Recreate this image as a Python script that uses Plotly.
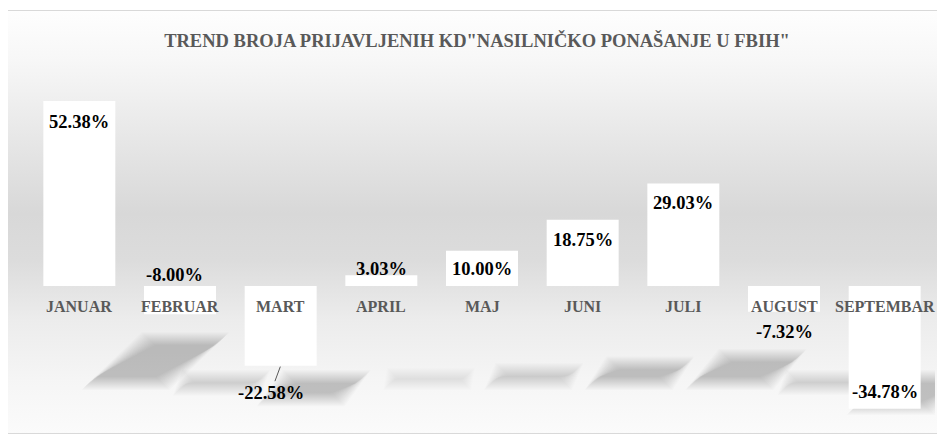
import base64
import plotly.graph_objects as go

# ---------------- data ----------------
months = ["JANUAR", "FEBRUAR", "MART", "APRIL", "MAJ", "JUNI", "JULI", "AUGUST", "SEPTEMBAR"]
trend_pct = [52.38, -8.00, -22.58, 3.03, 10.00, 18.75, 29.03, -7.32, -34.78]
value_labels = ["52.38%", "-8.00%", "-22.58%", "3.03%", "10.00%", "18.75%", "29.03%", "-7.32%", "-34.78%"]
title_text = 'TREND BROJA PRIJAVLJENIH KD"NASILNIČKO PONAŠANJE U FBIH"'

# ---------------- style ----------------
OFF = 8                      # page body margin of the html page
W, H = 945 - OFF, 441 - OFF
ML, MR, MT, MB = 29 - OFF, 10, 90 - OFF, 16
Y_RANGE = [-39.38, 55.52]
label_dy = [-21, 39, 0, 6, -18, -20, -19.5, -20, 17]   # px offsets of value labels
label_dx = [0, -6, 0, 0, 0, 0, 0, 0, 0]
SERIF = "Liberation Serif, Cambria, serif"

plot_w = W - ML - MR
plot_h = H - MT - MB
px_x = plot_w / len(months)                 # px per category unit
px_y = plot_h / (Y_RANGE[1] - Y_RANGE[0])   # px per percent

x_idx = list(range(len(months)))

fig = go.Figure()
fig.add_trace(go.Bar(
    x=x_idx, y=trend_pct,
    marker=dict(color="#ffffff", line=dict(width=0)),
    hoverinfo="skip",
))

# ---------------- background gradient (decorative) ----------------
svg = (
    "<svg xmlns='http://www.w3.org/2000/svg' width='100' height='100' viewBox='0 0 100 100' "
    "preserveAspectRatio='none'><defs><linearGradient id='g' x1='0' y1='0' x2='0' y2='1'>"
    "<stop offset='0' stop-color='#fefefe'/>"
    "<stop offset='0.12' stop-color='#f7f7f7'/>"
    "<stop offset='0.28' stop-color='#e9e9e9'/>"
    "<stop offset='0.48' stop-color='#d8d8d8'/>"
    "<stop offset='0.59' stop-color='#dcdcdc'/>"
    "<stop offset='0.73' stop-color='#ececec'/>"
    "<stop offset='0.87' stop-color='#f5f5f5'/>"
    "<stop offset='1' stop-color='#fbfbfb'/>"
    "</linearGradient></defs><rect x='0' y='0' width='100' height='100' fill='url(#g)'/></svg>"
)
src = "data:image/svg+xml;base64," + base64.b64encode(svg.encode()).decode()


def pxx(p):   # reference px -> paper x
    return (p - OFF - ML) / plot_w


def pxy(p):   # reference px (from top) -> paper y
    return (H - MB - (p - OFF)) / plot_h


fig.add_layout_image(dict(
    source=src, xref="paper", yref="paper",
    x=pxx(7), y=pxy(10), sizex=(960 - 7) / plot_w, sizey=(434 - 10) / plot_h,
    xanchor="left", yanchor="top", sizing="stretch", layer="below",
))
fig.add_shape(type="rect", xref="paper", yref="paper",
              x0=pxx(7.5), x1=pxx(960), y0=pxy(433.5), y1=pxy(10.5),
              line=dict(color="#d9d9d9", width=1), fillcolor="rgba(0,0,0,0)", layer="below")

# ---------------- floor shadows (decorative, derived from values) ----------------
bar_w_px = 68
zero_px = MT + Y_RANGE[1] * px_y + OFF                # reference pixel row of y = 0
floor_y = -(380 - zero_px) / px_y
for i, v in enumerate(trend_pct):
    left = i - (72 / 2) / px_x + 48 / px_x
    right = left + bar_w_px / px_x
    rise = 0.72 * v / px_y
    shift = 1.15 * v / px_x
    strength = min(1.0, 0.3 + abs(v) / 20)
    for e in range(10, -4, -1):
        ex = e / px_x
        ey = e / px_y
        top = floor_y + max(rise, 0) + ey
        bot = floor_y + min(rise, 0) - ey
        if top <= bot:
            continue
        if v >= 0:
            pts = [(left - ex, bot), (right + ex, bot), (right + shift + ex, top), (left + shift - ex, top)]
        else:
            pts = [(left + shift - ex, bot), (right + shift + ex, bot), (right + ex, top), (left - ex, top)]
        path = "M " + " L ".join(f"{a:.4f},{b:.4f}" for a, b in pts) + " Z"
        fig.add_shape(type="path", path=path, xref="x", yref="y",
                      fillcolor=f"rgba(0,0,0,{0.016 * strength:.4f})", line=dict(width=0), layer="below")

# ---------------- category labels at zero line ----------------
for i, m in enumerate(months):
    fig.add_annotation(x=i, y=0, text=f"<b>{m}</b>", showarrow=False, yshift=-21,
                       font=dict(family=SERIF, size=16, color="#595959"))

# ---------------- value labels ----------------
for i, (v, t) in enumerate(zip(trend_pct, value_labels)):
    if months[i] == "MART":
        fig.add_annotation(x=i, y=v, text=f"<b>{t}</b>", showarrow=True,
                           ax=-10, ay=27, arrowhead=0, arrowwidth=1, arrowcolor="#595959",
                           standoff=1, font=dict(family=SERIF, size=18.5, color="#000000"))
    else:
        fig.add_annotation(x=i, y=v, text=f"<b>{t}</b>", showarrow=False,
                           yshift=label_dy[i], xshift=label_dx[i],
                           font=dict(family=SERIF, size=18.5, color="#000000"))

fig.update_layout(
    width=W, height=H,
    margin=dict(l=ML, r=MR, t=MT, b=MB),
    paper_bgcolor="#ffffff", plot_bgcolor="rgba(0,0,0,0)",
    bargap=0.285, showlegend=False,
    title=dict(text=f"<b>{title_text}</b>", x=(477 - OFF) / W, xref="container", xanchor="center",
               y=1 - (41 - OFF) / H, yref="container", yanchor="middle",
               font=dict(family=SERIF, size=18.5, color="#595959")),
    xaxis=dict(range=[-0.5, len(months) - 0.5], visible=False, fixedrange=True),
    yaxis=dict(range=Y_RANGE, visible=False, fixedrange=True),
)

fig.write_html("out.html")
